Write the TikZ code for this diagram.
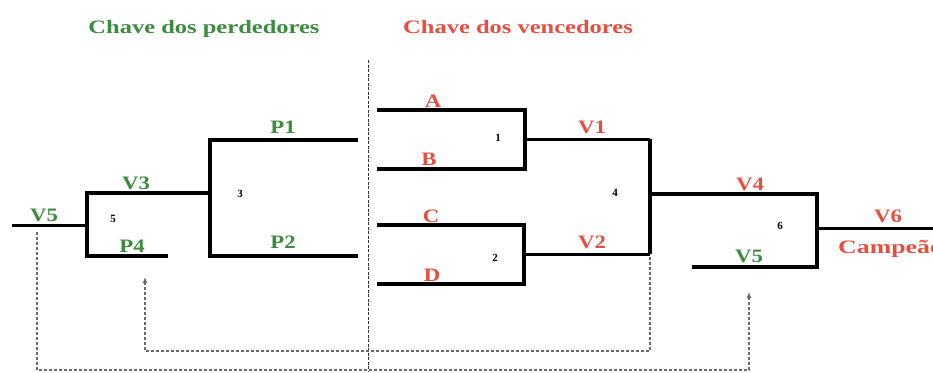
\documentclass[tikz,border=0pt]{standalone}
\usepackage{fontspec}
\setmainfont{Liberation Serif}
\usetikzlibrary{arrows.meta}
\definecolor{pgreen}{RGB}{58,140,62}
\definecolor{vred}{RGB}{232,78,64}
\definecolor{dgray}{RGB}{105,105,105}
\newcommand{\sxl}[1]{\scalebox{1.2}[1]{#1}}
\newcommand{\sxt}[1]{\scalebox{1.29}[1]{#1}}
\begin{document}
\begin{tikzpicture}[x=1pt,y=-1pt,
  br/.style={line width=3.8pt, line join=miter},
  brthin/.style={line width=3pt, line join=miter},
  lab/.style={font=\fontsize{19}{19}\selectfont\bfseries, inner sep=0pt, anchor=base},
  ttl/.style={font=\fontsize{19}{19}\selectfont\bfseries, inner sep=0pt, anchor=base},
  num/.style={font=\fontsize{11}{11}\selectfont\bfseries, inner sep=0pt},
  dline/.style={dgray, line width=1.2pt, dash pattern=on 3pt off 2pt},
  sepline/.style={black!80, line width=1pt, dash pattern=on 3pt off 1.5pt},
  tip/.style={-{Latex[length=6pt,width=5pt]}}
]
\useasboundingbox (0,0) rectangle (933,372);
\fill[white] (0,0) rectangle (933,372);

% titles
\node[ttl, text=pgreen] (tp) at (204,33) {\sxt{Chave dos perdedores}};
\node[ttl, text=vred] (tv) at (518,33) {\sxt{Chave dos vencedores}};

% separator
\coordinate (sepT) at (368,60);
\coordinate (sepB) at (368,372);
\draw[sepline] (sepT) -- (sepB);

% winners bracket coordinates
\coordinate (aL) at (377,110); \coordinate (aR) at (525,110);
\coordinate (bL) at (377,169); \coordinate (bR) at (525,169);
\coordinate (m1) at (525,139); \coordinate (v1R) at (650,139);
\coordinate (cL) at (377,225); \coordinate (cR) at (524,225);
\coordinate (dL) at (377,284); \coordinate (dR) at (524,284);
\coordinate (m2) at (524,254); \coordinate (v2R) at (650,254);
\coordinate (m4) at (650,194); \coordinate (v4R) at (817,194);
\coordinate (v5rL) at (692,267); \coordinate (v5rR) at (817,267);
\coordinate (m6) at (817,228); \coordinate (v6R) at (935,228);

\draw[br] (aL) -- (aR) -- (bR) -- (bL);
\draw[br] (cL) -- (cR) -- (dR) -- (dL);
\draw[brthin] (m1) -- (v1R);
\draw[brthin] (m2) -- (v2R);
\draw[br] (v1R) -- (v2R);
\draw[br] (m4) -- (v4R) -- (v5rR) -- (v5rL);
\draw[brthin] (m6) -- (v6R);

% losers bracket coordinates
\coordinate (p1L) at (210,140); \coordinate (p1R) at (358,140);
\coordinate (p2L) at (210,256); \coordinate (p2R) at (358,256);
\coordinate (m3) at (210,193); \coordinate (v3L) at (87,193);
\coordinate (p4L) at (87,256); \coordinate (p4R) at (168,256);
\coordinate (m5) at (87,225); \coordinate (v5lL) at (12,225);

\draw[br] (p1R) -- (p1L) -- (p2L) -- (p2R);
\draw[br] (m3) -- (v3L) -- (p4L) -- (p4R);
\draw[brthin] (m5) -- (v5lL);

% labels winners
\node[lab, text=vred] (lA) at (433,107) {\sxl{A}};
\node[lab, text=vred] (lB) at (429,165) {\sxl{B}};
\node[lab, text=vred] (lC) at (431,222) {\sxl{C}};
\node[lab, text=vred] (lD) at (432,281) {\sxl{D}};
\node[lab, text=vred] (lV1) at (592,133) {\sxl{V1}};
\node[lab, text=vred] (lV2) at (592,248) {\sxl{V2}};
\node[lab, text=vred] (lV4) at (750,190) {\sxl{V4}};
\node[lab, text=pgreen] (lV5r) at (749,262) {\sxl{V5}};
\node[lab, text=vred] (lV6) at (888,222) {\sxl{V6}};
\node[lab, text=vred, anchor=base west] (lCamp) at (838,253) {\scalebox{1.36}[1]{Campeão}};

% labels losers
\node[lab, text=pgreen] (lP1) at (283,133) {\sxl{P1}};
\node[lab, text=pgreen] (lP2) at (283,248) {\sxl{P2}};
\node[lab, text=pgreen] (lV3) at (136,189) {\sxl{V3}};
\node[lab, text=pgreen] (lP4) at (132,252) {\sxl{P4}};
\node[lab, text=pgreen] (lV5l) at (44,221) {\sxl{V5}};

% match numbers
\node[num] (n1) at (498,138) {1};
\node[num] (n2) at (495,258) {2};
\node[num] (n3) at (240,194) {3};
\node[num] (n4) at (615,193) {4};
\node[num] (n5) at (113,219) {5};
\node[num] (n6) at (780,226) {6};

% dashed connectors
\coordinate (d1s) at (650,257);
\coordinate (d1a) at (650,351);
\coordinate (d1b) at (145,351);
\coordinate (d1e) at (145,277);
\draw[dline, tip] (d1s) -- (d1a) -- (d1b) -- (d1e);

\coordinate (d2s) at (37,232);
\coordinate (d2a) at (37,370);
\coordinate (d2b) at (749,370);
\coordinate (d2e) at (749,292);
\draw[dline, tip] (d2s) -- (d2a) -- (d2b) -- (d2e);
\end{tikzpicture}
\end{document}
